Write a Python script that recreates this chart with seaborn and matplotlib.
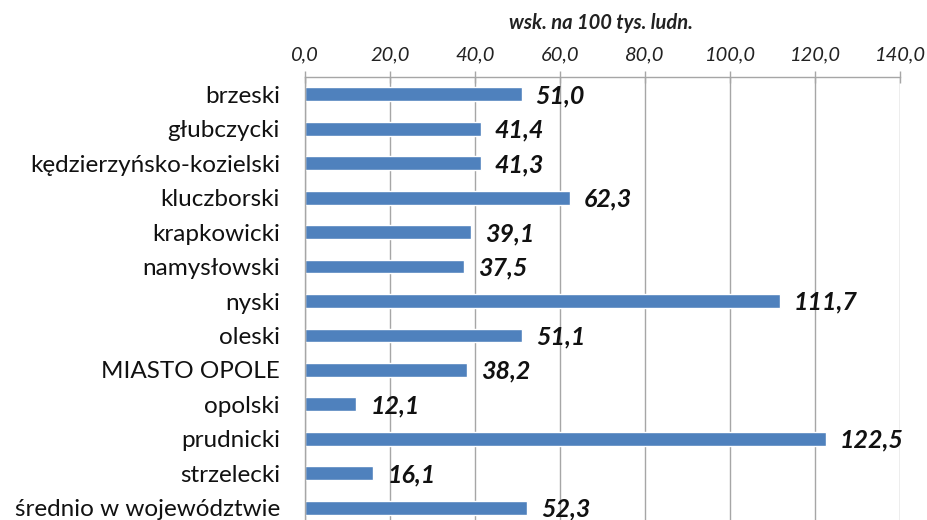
"""
Wskaźnik na 100 tys. ludności wg powiatów województwa opolskiego.
Wykres słupkowy poziomy (seaborn).
"""
import numpy as np
import pandas as pd
import matplotlib
matplotlib.use('Agg')
import matplotlib.pyplot as plt
import seaborn as sns
from matplotlib.ticker import FuncFormatter, MultipleLocator, FixedLocator

# Dane
powiaty = ['brzeski', 'głubczycki', 'kędzierzyńsko-kozielski', 'kluczborski',
           'krapkowicki', 'namysłowski', 'nyski', 'oleski', 'MIASTO OPOLE',
           'opolski', 'prudnicki', 'strzelecki', 'średnio w województwie']
wskaznik = [51.0, 41.4, 41.3, 62.3, 39.1, 37.5, 111.7, 51.1, 38.2,
            12.1, 122.5, 16.1, 52.3]
tytul_osi = 'wsk. na 100 tys. ludn.'

KOLOR_SLUPKA = '#4F81BD'
KOLOR_SIATKI = '#A6A6A6'

sns.set_style('white')
plt.rcParams['font.family'] = ['Lato', 'DejaVu Sans']

df = pd.DataFrame({'powiat': powiaty, 'wsk': wskaznik})

fig = plt.figure(figsize=(9.28, 5.2), dpi=100)
# osie ustawione recznie, dolna krawedz lekko poza obrazem (jak w oryginale)
ax = fig.add_axes([305 / 928, -5 / 520, 595 / 928, 448 / 520])

sns.barplot(data=df, x='wsk', y='powiat', color=KOLOR_SLUPKA, width=0.4,
            saturation=1, ax=ax, orient='h')

# os X na gorze
ax.set_xlim(0, 140)
ax.set_ylim(len(powiaty) - 0.5, -0.5)
ax.xaxis.set_major_locator(MultipleLocator(20))
ax.xaxis.set_major_formatter(FuncFormatter(lambda v, p: f'{v:.1f}'.replace('.', ',')))
ax.xaxis.tick_top()
ax.tick_params(axis='x', which='major', direction='inout', length=9, width=1,
               color=KOLOR_SIATKI, pad=5, labelsize=14.5, labelcolor='#222222')
for lab in ax.get_xticklabels():
    lab.set_fontstyle('italic')
ax.grid(axis='x', color=KOLOR_SIATKI, linewidth=1)
ax.set_axisbelow(True)
ax.set_xlabel('')
ax.set_ylabel('')

# os Y: etykiety bez kresek, kreski na granicach kategorii
ax.yaxis.set_minor_locator(FixedLocator(np.arange(-0.5, len(powiaty), 1.0)))
ax.tick_params(axis='y', which='major', length=0, pad=18, labelsize=17.5,
               labelcolor='#111111')
ax.tick_params(axis='y', which='minor', length=8, width=1, color=KOLOR_SIATKI,
               direction='out')

for side in ['right', 'bottom']:
    ax.spines[side].set_visible(False)
for side in ['top', 'left']:
    ax.spines[side].set_color(KOLOR_SIATKI)
    ax.spines[side].set_linewidth(1)

# etykiety wartosci
for i, v in enumerate(wskaznik):
    ax.annotate(f'{v:.1f}'.replace('.', ','), xy=(v, i), xytext=(10, -1),
                textcoords='offset points', va='center', ha='left',
                fontsize=18, fontweight='bold', fontstyle='italic',
                color='#111111', annotation_clip=False)

fig.text(601 / 928, 1 - 23 / 520, tytul_osi, ha='center', va='center',
         fontsize=14.5, fontweight='bold', fontstyle='italic', color='#222222')

fig.savefig('out.png', dpi=100)
